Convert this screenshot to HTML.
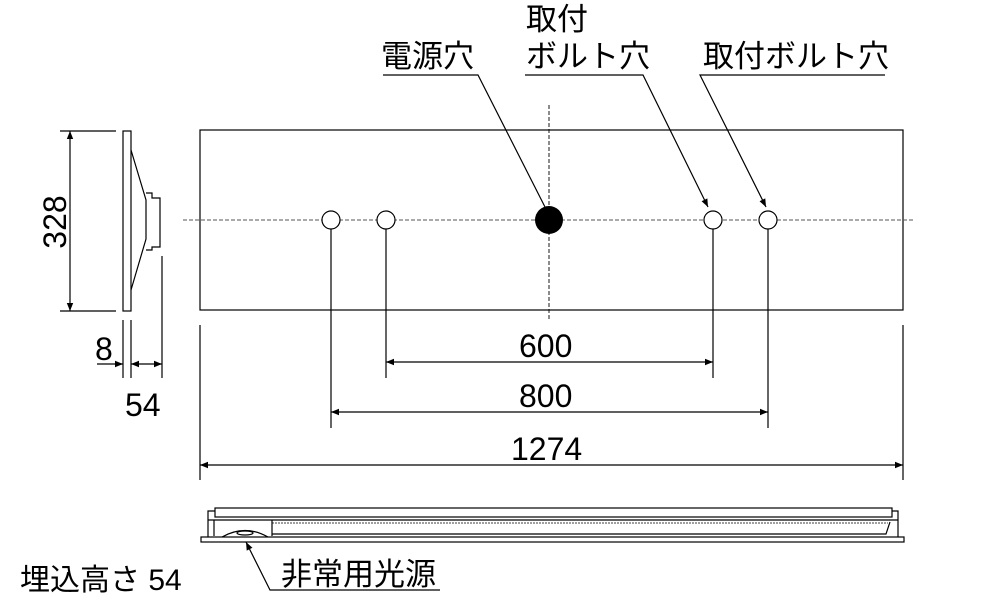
<!DOCTYPE html>
<html><head><meta charset="utf-8"><style>
html,body{margin:0;padding:0;background:#fff;width:1000px;height:600px;overflow:hidden}
text{font-family:"Liberation Sans","Noto Sans CJK JP",sans-serif;fill:#000}
</style></head><body>
<svg width="1000" height="600" viewBox="0 0 1000 600" xmlns="http://www.w3.org/2000/svg">
<defs>
<marker id="a" viewBox="0 0 10 10" refX="10" refY="5" markerWidth="10" markerHeight="8" orient="auto-start-reverse" markerUnits="userSpaceOnUse"><path d="M0,1 L10,5 L0,9 z" fill="#000"/></marker>
</defs>
<g stroke="#000" stroke-width="1.2" fill="none">
<rect x="123" y="131" width="8" height="180"/>
<path d="M131,150 L146,200 L146,239 L131,290"/>
<path d="M146,193 H152 V198 H160 V247 H152 V250 H146"/>
<line x1="60" y1="131" x2="116" y2="131"/>
<line x1="60" y1="311" x2="116" y2="311"/>
<line x1="70" y1="131" x2="70" y2="311" marker-start="url(#a)" marker-end="url(#a)"/>
<line x1="123" y1="320" x2="123" y2="378"/>
<line x1="131" y1="320" x2="131" y2="378"/>
<line x1="162" y1="256" x2="162" y2="378"/>
<line x1="97" y1="364" x2="123" y2="364" marker-end="url(#a)"/>
<line x1="131" y1="364" x2="162" y2="364" marker-start="url(#a)" marker-end="url(#a)"/>
<rect x="200" y="130" width="703" height="180"/>
<line x1="183" y1="220" x2="915" y2="220" stroke-dasharray="4,2" stroke-width="0.9" stroke="#555"/>
<line x1="549" y1="105" x2="549" y2="320" stroke-dasharray="4,2" stroke-width="0.9"/>
<line x1="331" y1="229" x2="331" y2="428"/>
<line x1="386" y1="229" x2="386" y2="378"/>
<line x1="713" y1="229" x2="713" y2="378"/>
<line x1="768" y1="229" x2="768" y2="428"/>
<line x1="200" y1="325" x2="200" y2="480"/>
<line x1="903" y1="325" x2="903" y2="480"/>
<line x1="386" y1="362" x2="713" y2="362" marker-start="url(#a)" marker-end="url(#a)"/>
<line x1="331" y1="412" x2="768" y2="412" marker-start="url(#a)" marker-end="url(#a)"/>
<line x1="200" y1="465" x2="903" y2="465" marker-start="url(#a)" marker-end="url(#a)"/>
<polyline points="383,75 478,75 545,207"/>
<polyline points="525,75 643,75 708,207" marker-end="url(#a)"/>
<polyline points="885,75 700,75 766,207" marker-end="url(#a)"/>
<rect x="215" y="508" width="677" height="9"/>
<path d="M215,511 H208 V537 M892,511 H898 V537"/>
<line x1="208" y1="520" x2="898" y2="520"/>
<path d="M214,520 V536 M272,520 V536 M272,534 H886 L890,522"/>
<line x1="272" y1="523" x2="888" y2="523" stroke-dasharray="2,1" stroke-width="0.8"/>
<rect x="201" y="537" width="703" height="5"/>
<path d="M222,537 Q245,524 268,537"/>
<ellipse cx="245" cy="533" rx="8" ry="2"/>
<polyline points="440,590 270,590 246,542" marker-end="url(#a)"/>
</g>
<circle cx="331" cy="220" r="9" fill="#fff" stroke="#000" stroke-width="1.2"/>
<circle cx="386" cy="220" r="9" fill="#fff" stroke="#000" stroke-width="1.2"/>
<circle cx="713" cy="220" r="9" fill="#fff" stroke="#000" stroke-width="1.2"/>
<circle cx="768" cy="220" r="9" fill="#fff" stroke="#000" stroke-width="1.2"/>
<circle cx="549" cy="220" r="14" fill="#000"/>
<g font-size="31">
<text x="381" y="67">電源穴</text>
<text x="526" y="30">取付</text>
<text x="526" y="67">ボルト穴</text>
<text x="703" y="67">取付ボルト穴</text>
<text x="281" y="585">非常用光源</text>
<text x="20" y="590" font-size="30">埋込高さ 54</text>
</g>
<g font-size="32">
<text x="519" y="357">600</text>
<text x="519" y="407">800</text>
<text x="511" y="460">1274</text>
<text x="95" y="360">8</text>
<text x="125" y="416">54</text>
<text transform="translate(66,222) rotate(-90)" text-anchor="middle">328</text>
</g>
</svg>
</body></html>
